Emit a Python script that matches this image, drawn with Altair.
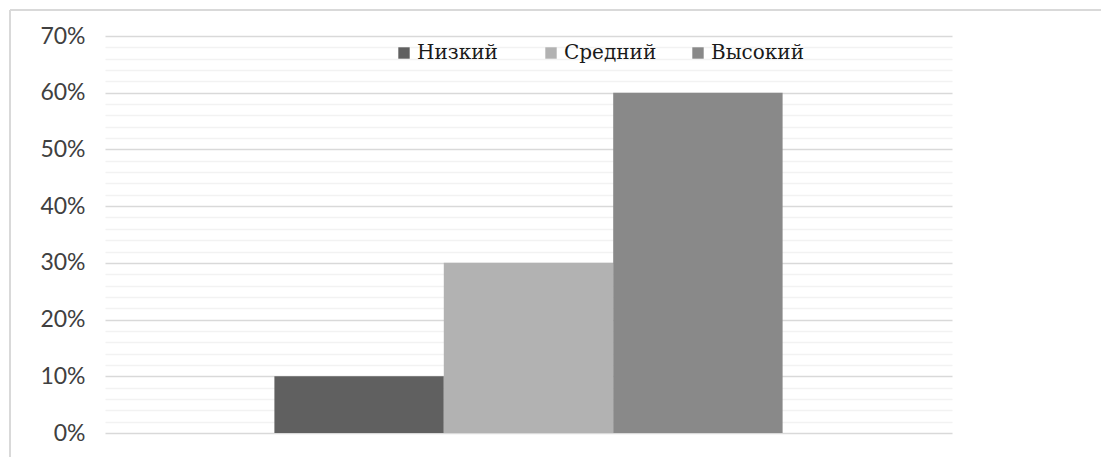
import altair as alt
import pandas as pd

categories = ["Уровень"]
series = ["Низкий", "Средний", "Высокий"]
values = [0.10, 0.30, 0.60]
colors = ["#606060", "#b2b2b2", "#898989"]
grid_values = [i / 100 for i in range(0, 71, 2)]

df = pd.DataFrame({"cat": categories * 3, "series": series, "value": values})

W, H = 847, 397
PL, PT = 105, 36

bars = alt.Chart(df).mark_bar(stroke=None).encode(
    x=alt.X("cat:N", axis=None,
            scale=alt.Scale(paddingInner=0, paddingOuter=1 / 3)),
    xOffset=alt.XOffset("series:N", sort=series,
                        scale=alt.Scale(paddingInner=0, paddingOuter=0)),
    y=alt.Y("value:Q",
            scale=alt.Scale(domain=[0, 0.7], nice=False, zero=True),
            axis=alt.Axis(
                values=grid_values,
                format=".0%",
                labelExpr="round(datum.value*100) % 10 === 0 ? datum.label : ''",
                domain=False, ticks=False, title=None,
                labelFont="Lato", labelFontSize=23, labelColor="#404040",
                labelPadding=20,
                gridColor={"condition": {"test": "round(datum.value*100) % 10 === 0",
                                          "value": "#d9d9d9"},
                           "value": "#f2f2f2"},
                gridWidth=1.4,
            )),
    color=alt.Color("series:N", sort=series,
                    scale=alt.Scale(domain=series, range=colors),
                    legend=alt.Legend(
                        orient="none", legendX=289, legendY=7,
                        direction="horizontal", title=None,
                        symbolType="square", symbolSize=130,
                        symbolStrokeWidth=0,
                        labelFont="DejaVu Serif", labelFontSize=20,
                        labelColor="#1a1a1a", labelOffset=3,
                        columns=3, gridAlign="all", columnPadding=30,
                        padding=0,
                    )),
)

frame_top = alt.Chart(pd.DataFrame({"a": [0]})).mark_rule(
    color="#d9d9d9", strokeWidth=2
).encode(x=alt.value(10 - PL), x2=alt.value(1101 - PL), y=alt.value(10 - PT))

frame_left = alt.Chart(pd.DataFrame({"a": [0]})).mark_rule(
    color="#d9d9d9", strokeWidth=2
).encode(x=alt.value(10 - PL), y=alt.value(10 - PT), y2=alt.value(457 - PT))

chart = alt.layer(bars, frame_top, frame_left).properties(
    width=W, height=H,
    background="white",
    autosize=alt.AutoSizeParams(type="none"),
    padding={"left": PL, "top": PT, "right": 1101 - PL - W, "bottom": 457 - PT - H},
).configure_view(stroke=None, strokeWidth=0)

chart.save("out.html", embed_options={"renderer": "svg", "actions": False})
